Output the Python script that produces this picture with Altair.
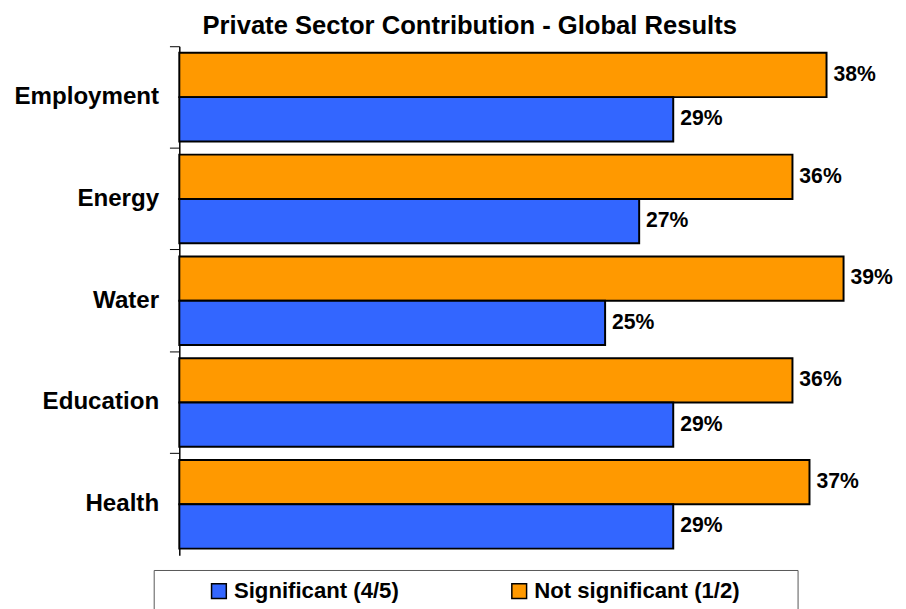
import altair as alt
import pandas as pd

categories = ["Employment", "Energy", "Water", "Education", "Health"]
significant = [29, 27, 25, 29, 29]
not_significant = [38, 36, 39, 36, 37]
series_names = ["Significant (4/5)", "Not significant (1/2)"]
series_colors = ["#3366FF", "#FF9900"]

rows = []
for c, s, n in zip(categories, significant, not_significant):
    rows.append({"category": c, "series": series_names[1], "value": n, "label": f"{n}%"})
    rows.append({"category": c, "series": series_names[0], "value": s, "label": f"{s}%"})
df = pd.DataFrame(rows)

FONT = "Liberation Sans"

y_enc = alt.Y("category:N", sort=categories, title=None,
              scale=alt.Scale(paddingInner=0, paddingOuter=0),
              axis=alt.Axis(bandPosition=0, tickSize=10, tickColor="black",
                            domainColor="black", domainWidth=1.5, tickWidth=1,
                            labelFont=FONT, labelFontSize=24.5, labelFontWeight="bold",
                            labelColor="black", labelPadding=11))
yoff_enc = alt.YOffset("series:N", sort=[series_names[1], series_names[0]],
                       scale=alt.Scale(paddingInner=0, paddingOuter=0.149))
x_enc = alt.X("value:Q", scale=alt.Scale(domain=[0, 40], nice=False), axis=None)

bars = alt.Chart(df).mark_bar(stroke="black", strokeWidth=2).encode(
    y=y_enc,
    yOffset=yoff_enc,
    x=x_enc,
    color=alt.Color("series:N",
                    scale=alt.Scale(domain=series_names, range=series_colors),
                    legend=alt.Legend(orient="none", legendX=-26, legendY=532,
                                      direction="horizontal", title=" ",
                                      titleOrient="right", titlePadding=49,
                                      padding=10, strokeColor="#555555",
                                      fillColor="white",
                                      symbolType="square", symbolSize=225,
                                      symbolStrokeColor="black", symbolStrokeWidth=1.5,
                                      symbolOffset=45, labelOffset=4,
                                      columnPadding=65,
                                      labelFont=FONT, labelFontSize=22.5,
                                      labelFontWeight="bold", labelColor="black",
                                      labelLimit=400)),
)

labels = alt.Chart(df).mark_text(align="left", baseline="middle", dx=7,
                                 font=FONT, fontSize=21.5, fontWeight="bold",
                                 color="black").encode(
    y=alt.Y("category:N", sort=categories),
    yOffset=alt.YOffset("series:N", sort=[series_names[1], series_names[0]]),
    x=alt.X("value:Q"),
    text="label:N",
)

chart = alt.layer(bars, labels).properties(
    width=692, height=517,
    padding={"top": 0, "left": 5, "right": 5, "bottom": 5},
    title=alt.TitleParams("Private Sector Contribution - Global Results",
                          font=FONT, fontSize=26, fontWeight="bold", color="black",
                          anchor="middle", dx=-51, offset=7),
).configure(background="white", view=alt.ViewConfig(stroke=None, strokeWidth=0))

chart.save("out.html", embed_options={"renderer": "svg", "actions": False})
